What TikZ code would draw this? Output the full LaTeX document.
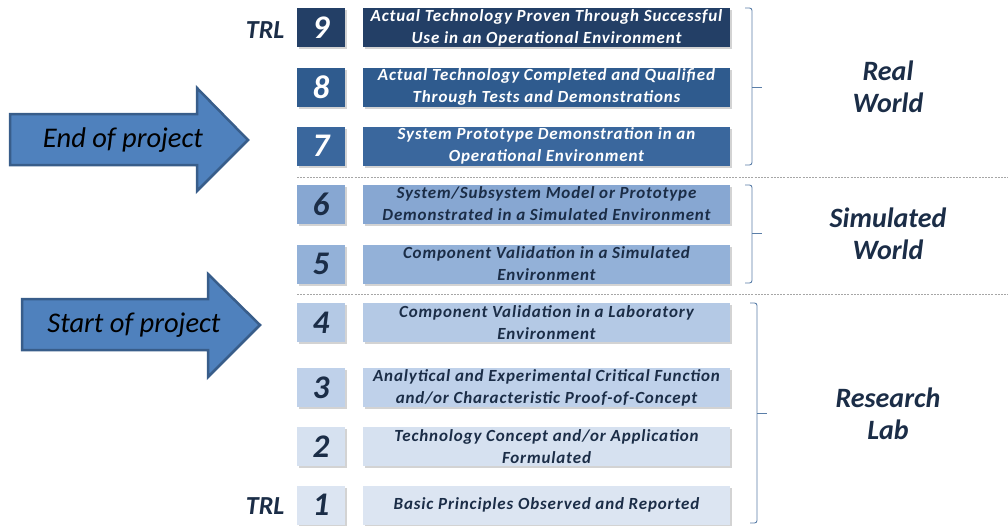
\documentclass[tikz,border=0pt]{standalone}
\usepackage{fontspec}
\setmainfont{Carlito}
\usetikzlibrary{shadows}
\definecolor{c9}{HTML}{233F66}
\definecolor{c8}{HTML}{2F5B8E}
\definecolor{c7}{HTML}{3A679D}
\definecolor{c6}{HTML}{87A7D2}
\definecolor{c5}{HTML}{93B1D8}
\definecolor{c4}{HTML}{B4C9E5}
\definecolor{c3}{HTML}{BFD1EA}
\definecolor{c2}{HTML}{D6E1F0}
\definecolor{c1}{HTML}{DCE5F2}
\definecolor{navy}{HTML}{1B2D47}
\definecolor{arrfill}{HTML}{4F81BD}
\definecolor{arrline}{HTML}{385D8A}
\definecolor{brc}{HTML}{5A7EA8}
\tikzset{
  box/.style={rectangle, inner sep=0pt, minimum height=39pt,
    drop shadow={shadow xshift=2pt, shadow yshift=-2pt, opacity=0.35, fill=gray}},
  numbox/.style={box, minimum width=48pt, font=\fontsize{33}{33}\selectfont\bfseries\itshape},
  txtbox/.style={box, minimum width=367pt, align=center, font=\fontsize{17}{22}\selectfont\bfseries\itshape\addfontfeature{LetterSpace=5}},
  dk/.style={text=white},
  lt/.style={text=navy},
  side/.style={align=center, text=navy, font=\fontsize{28}{32}\selectfont\bfseries\itshape},
  trl/.style={text=navy, font=\fontsize{26}{26}\selectfont\bfseries\itshape},
  sep/.style={draw=gray!70, dash pattern=on 2pt off 1.2pt, line width=0.8pt},
  brace/.style={draw=brc, line width=0.9pt, rounded corners=2.5pt},
  bigarrow/.style={fill=arrfill, draw=arrline, line width=2.5pt, line join=miter},
  arrtext/.style={font=\fontsize{28.5}{28.5}\selectfont\itshape, text=black}
}
\begin{document}
\begin{tikzpicture}[x=1pt, y=-1pt]
\useasboundingbox (0,0) rectangle (1008,525);

% rows
\foreach \n/\y/\c/\s/\t in {
  9/27.5/c9/dk/{Actual Technology Proven Through Successful\\Use in an Operational Environment},
  8/87/c8/dk/{Actual Technology Completed and Qualified\\Through Tests and Demonstrations},
  7/146/c7/dk/{System Prototype Demonstration in an\\Operational Environment},
  6/204/c6/lt/{System/Subsystem Model or Prototype\\Demonstrated in a Simulated Environment},
  5/264/c5/lt/{Component Validation in a Simulated\\Environment},
  4/322.5/c4/lt/{Component Validation in a Laboratory\\Environment},
  3/387.5/c3/lt/{Analytical and Experimental Critical Function\\and/or Characteristic Proof-of-Concept},
  2/446.5/c2/lt/{Technology Concept and/or Application\\Formulated},
  1/505/c1/lt/{Basic Principles Observed and Reported}}
{
  \node[numbox, fill=\c, \s] (n\n) at (321,\y) {\n};
  \node[txtbox, fill=\c, \s] (t\n) at (546.5,\y) {\t};
}

\node[trl, anchor=east] (trl9) at (288,30) {TRL};
\node[trl, anchor=east] (trl1) at (288,506) {TRL};

% separators
\coordinate (s1a) at (297,177); \coordinate (s1b) at (1008,177);
\coordinate (s2a) at (297,294); \coordinate (s2b) at (1008,294);
\draw[sep] (s1a) -- (s1b);
\draw[sep] (s2a) -- (s2b);

% braces
\draw[brace] (745,8) -- (752,8) -- (752,165) -- (745,165);
\draw[draw=brc, line width=0.9pt] (752,87) -- (762,87);
\draw[brace] (745,185) -- (752,185) -- (752,283) -- (745,283);
\draw[draw=brc, line width=0.9pt] (752,233) -- (762,233);
\draw[brace] (750,303) -- (757,303) -- (757,523) -- (750,523);
\draw[draw=brc, line width=0.9pt] (757,413) -- (767,413);

\node[side] (real) at (888,87) {Real\\World};
\node[side] (sim) at (888,234) {Simulated\\World};
\node[side] (lab) at (888,414) {Research\\Lab};

% big arrows
\draw[bigarrow] (10,114) -- (197,114) -- (197,88) -- (248,140) -- (197,191) -- (197,165) -- (10,165) -- cycle;
\node[arrtext] (endp) at (123,140) {End of project};
\draw[bigarrow] (22,299) -- (208,299) -- (208,274) -- (260,325) -- (208,377) -- (208,350) -- (22,350) -- cycle;
\node[arrtext] (startp) at (134,325) {Start of project};
\end{tikzpicture}
\end{document}
